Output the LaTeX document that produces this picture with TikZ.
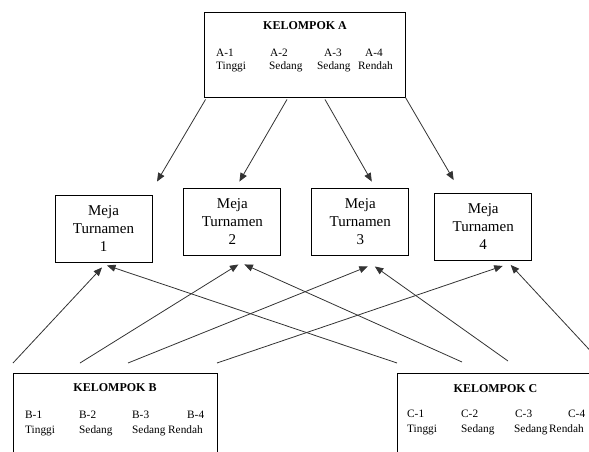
\documentclass[tikz,border=0pt]{standalone}
\usepackage{fontspec}
\setmainfont{Liberation Serif}
\usetikzlibrary{arrows.meta, positioning}

\begin{document}
\begin{tikzpicture}[x=1pt, y=-1pt,
    group/.style={draw, rectangle, line width=0.9pt, inner sep=0pt},
    tablebox/.style={draw, rectangle, line width=0.9pt, minimum width=97pt, minimum height=67pt, inner sep=0pt, align=center, font=\fontsize{15}{18}\selectfont},
    grouptitle/.style={anchor=base, inner sep=0pt, font=\fontsize{12}{14}\selectfont\bfseries},
    member/.style={anchor=base west, inner sep=0pt, font=\fontsize{11.3}{13}\selectfont},
    flow/.style={draw=black!80, line width=0.8pt, -{Triangle[length=8.5pt, width=7pt]}}]
        \clip (0,0) rectangle (589,452);
        % Nodes
        \node[group, minimum width=201pt, minimum height=85pt] (KA) at (304.5,54.5) {};
        \node[group, minimum width=204pt, minimum height=100pt, anchor=north west] (KB) at (13,373) {};
        \node[group, minimum width=210pt, minimum height=100pt, anchor=north west] (KC) at (397,373) {};
        \node[tablebox] (M1) at (103.5,228.5) {Meja\\Turnamen\\1};
        \node[tablebox, right=31pt of M1, yshift=7pt] (M2) {Meja\\Turnamen\\2};
        \node[tablebox, right=30pt of M2] (M3) {Meja\\Turnamen\\3};
        \node[tablebox, right=25pt of M3, yshift=-5.5pt] (M4) {Meja\\Turnamen\\4};
        % Group A
        \node[grouptitle] (KAt) at (305,29.3) {KELOMPOK A};
        \node[member] (A1) at (216,57) {A-1};
        \node[member] (A2) at (270,57) {A-2};
        \node[member] (A3) at (324,57) {A-3};
        \node[member] (A4) at (365,57) {A-4};
        \node[member] (A1lv) at (216,70) {Tinggi};
        \node[member] (A2lv) at (269,70) {Sedang};
        \node[member] (A3lv) at (317,70) {Sedang};
        \node[member] (A4lv) at (358,70) {Rendah};
        % Group B
        \node[grouptitle] (KBt) at (115,391.7) {KELOMPOK B};
        \node[member] (B1) at (25,418) {B-1};
        \node[member] (B2) at (79,418) {B-2};
        \node[member] (B3) at (132,418) {B-3};
        \node[member] (B4) at (187,418) {B-4};
        \node[member] (B1lv) at (25,433) {Tinggi};
        \node[member] (B2lv) at (79,433) {Sedang};
        \node[member] (B3lv) at (132,433) {Sedang};
        \node[member] (B4lv) at (168,433) {Rendah};
        % Group C
        \node[grouptitle] (KCt) at (495.5,392) {KELOMPOK C};
        \node[member] (C1) at (407,417) {C-1};
        \node[member] (C2) at (461,417) {C-2};
        \node[member] (C3) at (515,417) {C-3};
        \node[member] (C4) at (568,417) {C-4};
        \node[member] (C1lv) at (407,432) {Tinggi};
        \node[member] (C2lv) at (461,432) {Sedang};
        \node[member] (C3lv) at (514,432) {Sedang};
        \node[member] (C4lv) at (549,432) {Rendah};
        % Arrow starts
        \coordinate (b1) at (13,363);
        \coordinate (b2) at (80,363);
        \coordinate (b3) at (128,363);
        \coordinate (b4) at (217,363);
        \coordinate (c1) at (397,363);
        \coordinate (c2) at (462,362);
        \coordinate (c3) at (508,361);
        \coordinate (c4) at (598,359);
        % Arrows
        \draw[flow] ([xshift=2pt, yshift=-2pt]KA.south west) -- ([shift={(53.5pt,13pt)}]M1.north);
        \draw[flow] ([xshift=-17.5pt, yshift=-2pt]KA.south) -- ([shift={(7pt,6pt)}]M2.north);
        \draw[flow] ([xshift=20.5pt, yshift=-2pt]KA.south) -- ([shift={(11.5pt,6pt)}]M3.north);
        \draw[flow] (KA.south east) -- ([shift={(-29.5pt,13pt)}]M4.north);
        \draw[flow] (b1) -- ([shift={(-1.5pt,-5pt)}]M1.south);
        \draw[flow] (b2) -- ([shift={(6pt,-9pt)}]M2.south);
        \draw[flow] (b3) -- ([shift={(7.5pt,-11pt)}]M3.south);
        \draw[flow] (b4) -- ([shift={(19.5pt,-5pt)}]M4.south);
        \draw[flow] (c1) -- ([shift={(3.5pt,-3pt)}]M1.south);
        \draw[flow] (c2) -- ([shift={(12pt,-9pt)}]M2.south);
        \draw[flow] (c3) -- ([shift={(14.5pt,-11pt)}]M3.south);
        \draw[flow] (c4) -- ([shift={(27.5pt,-4pt)}]M4.south);
    \end{tikzpicture}
\end{document}
